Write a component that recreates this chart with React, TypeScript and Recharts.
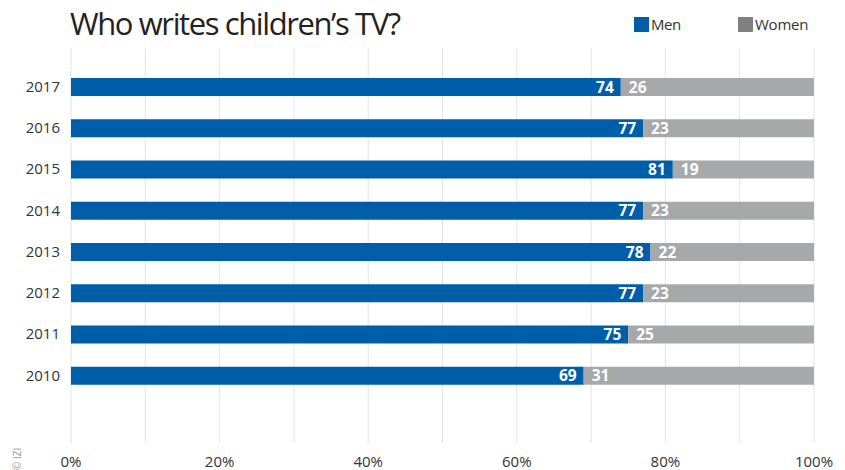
import React from 'react';
import { BarChart, Bar, XAxis, YAxis, CartesianGrid, LabelList } from 'recharts';

const years = ['2017', '2016', '2015', '2014', '2013', '2012', '2011', '2010'];
const men = [74, 77, 81, 77, 78, 77, 75, 69];
const women = [26, 23, 19, 23, 22, 23, 25, 31];
const xTicks = [0, 10, 20, 30, 40, 50, 60, 70, 80, 90, 100];

const data = years.map((y, i) => ({ year: y, men: men[i], women: women[i] }));

const FONT = '"Open Sans", "DejaVu Sans", sans-serif';
const BLUE = '#005ea8';
const GRAY = '#a7a8aa';

export default function App() {
  return (
    <div style={{ position: 'absolute', left: 0, top: 0, width: 845, height: 470, background: '#fff', fontFamily: FONT }}>
      <div style={{ position: 'absolute', left: 70, top: 0, fontSize: 31, color: '#222', letterSpacing: -1.4, lineHeight: '46px' }}>
        Who writes children’s TV?
      </div>
      <div style={{ position: 'absolute', left: 634, top: 14, display: 'flex', alignItems: 'center', fontSize: 15, color: '#333' }}>
        <span style={{ display: 'inline-block', width: 15, height: 15, background: BLUE, marginRight: 2 }} />
        <span style={{ letterSpacing: -0.4 }}>Men</span>
        <span style={{ display: 'inline-block', width: 15, height: 15, background: '#808080', marginLeft: 57, marginRight: 2 }} />
        <span style={{ letterSpacing: -0.2 }}>Women</span>
      </div>
      <div style={{ position: 'absolute', left: 10, top: 470, transform: 'rotate(-90deg)', transformOrigin: 'left top', fontSize: 10, color: '#999', whiteSpace: 'nowrap' }}>
        © IZI
      </div>
      <div style={{ position: 'absolute', left: 0, top: 0 }}>
        <BarChart
          width={845}
          height={470}
          data={data}
          layout="vertical"
          margin={{ top: 48, right: 31, bottom: 0, left: 0 }}
        >
          <CartesianGrid horizontal={false} stroke="#e3e3e3" />
          <XAxis
            type="number"
            domain={[0, 100]}
            ticks={xTicks}
            interval={0}
            axisLine={false}
            tickLine={false}
            height={27}
            tickMargin={7}
            tickFormatter={(v: number) => (v % 20 === 0 ? `${v}%` : '')}
            tick={{ fill: '#333', fontSize: 15, fontFamily: FONT }}
          />
          <YAxis
            type="category"
            dataKey="year"
            width={71}
            axisLine={false}
            tickLine={false}
            tickMargin={5}
            padding={{ top: 18, bottom: 47 }}
            tick={{ fill: '#333', fontSize: 15, fontFamily: FONT }}
          />
          <Bar dataKey="men" stackId="a" fill={BLUE} barSize={18} isAnimationActive={false}>
            <LabelList dataKey="men" position="insideRight" offset={7} fill="#fff" fontSize={15.5} fontWeight="bold" fontFamily={FONT} />
          </Bar>
          <Bar dataKey="women" stackId="a" fill={GRAY} barSize={18} isAnimationActive={false}>
            <LabelList dataKey="women" position="insideLeft" offset={8} fill="#fff" fontSize={15.5} fontWeight="bold" fontFamily={FONT} />
          </Bar>
        </BarChart>
      </div>
    </div>
  );
}
